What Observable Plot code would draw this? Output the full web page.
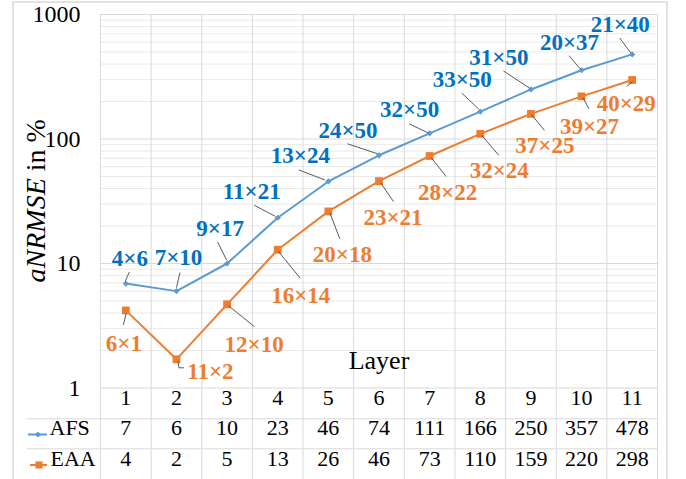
<!DOCTYPE html>
<html><head><meta charset="utf-8">
<script src="https://cdn.jsdelivr.net/npm/d3@7"></script>
<script src="https://cdn.jsdelivr.net/npm/@observablehq/plot@0.6"></script>
<style>
html,body{margin:0;padding:0;background:#fff}
svg{display:block}
#chart svg, #chart svg text, #chart svg tspan{font-family:"Liberation Serif","Times New Roman",serif !important;font-variant:normal !important}
</style>
</head><body><div id="chart"></div>
<script>
// ---- data ----
const layers = [1, 2, 3, 4, 5, 6, 7, 8, 9, 10, 11];
const afsValues = [6.9, 6.0, 10.0, 23.3, 45.6, 74.0, 111, 166, 250, 357, 478];
const eaaValues = [4.2, 1.7, 4.7, 12.9, 26.2, 45.9, 73, 110, 159, 220, 298];
const afsLabels = ["4×6", "7×10", "9×17", "11×21", "13×24", "24×50", "32×50", "33×50", "31×50", "20×37", "21×40"];
const eaaLabels = ["6×1", "11×2", "12×10", "16×14", "20×18", "23×21", "28×22", "32×24", "37×25", "39×27", "40×29"];
const seriesNames = ["AFS", "EAA"];
const yTicks = [1, 10, 100, 1000];
const yMinor = [2,3,4,5,6,7,8,9,20,30,40,50,60,70,80,90,200,300,400,500,600,700,800,900];
const xLabel = "Layer";

// ---- layout (pixel offsets of data labels and their leader lines) ----
const afsLabelOff = [[4,-25],[2,-33],[-7,-35],[-26,-26],[-28,-26],[-31,-25],[-20,-24],[-18,-32],[-32,-32],[-12,-28],[-12,-30]];
const afsLeader = [[[4,-11],[0,-2]],[[4,-18],[0.5,-3]],[[-9,-21],[0,-3]],[[-23,-12],[-2,-1]],[[-29,-11],[-3,-1]],[[-31,-11],[-1,-1]],[[-20,-9],[-1,0]],[[-18,-18],[-1,-2]],[[-27,-18],[-1,-1]],[[-12,-14],[-1,-1]],[[-12,-16],[-1,-1]]];
const eaaLabelOff = [[-2,33],[34,12],[27,40],[23,46],[14,43],[14,37],[18,37],[19,37],[14,32],[8,30],[-6,24]];
const eaaLeader = [[[-2,15],[1,3]],[[2,2],[3,9],[8,9]],[[2,2],[28,23]],[[1,2],[23,29]],[[2,2],[12,28]],[[2,2],[15,21]],[[2,2],[17,21]],[[2,2],[19,22]],[[1,1],[14,17]],[[2,2],[8,13]],[[1,2],[-5,7]]];

const BLUE = "#5b9bd5", ORANGE = "#ed7d31", BLUE_TXT = "#0070c0", ORANGE_TXT = "#ed7d31";
const GRID = "#d9d9d9", GRID_MINOR = "#e9e9e9";
const FONT = "Liberation Serif, Times New Roman, serif";

const afs = layers.map((l, i) => ({layer: l, value: afsValues[i], label: afsLabels[i]}));
const eaa = layers.map((l, i) => ({layer: l, value: eaaValues[i], label: eaaLabels[i]}));
const boundaries = d3.range(0.5, 12, 1);
const diamond = d3.symbolDiamond2 || d3.symbolDiamond;
const T = {fontFamily: FONT, fill: "#000"};

const labelMarks = (data, offs, color) => data.map((d, i) => Plot.text([d], {
  x: "layer", y: "value", text: "label", dx: offs[i][0], dy: offs[i][1],
  fill: color, fontWeight: "bold", fontSize: 23, fontFamily: FONT
}));

const plot = Plot.plot({
  width: 686, height: 479,
  marginLeft: 100, marginRight: 29, marginTop: 14, marginBottom: 91.5,
  style: {fontFamily: FONT, background: "#fff", color: "#000"},
  x: {type: "linear", domain: [0.5, 11.5], axis: null},
  y: {type: "log", domain: [1, 1000], axis: null},
  marks: [
    Plot.ruleY(yMinor, {stroke: GRID_MINOR, strokeWidth: 1}),
    Plot.ruleY(yTicks, {stroke: GRID, strokeWidth: 1}),
    Plot.ruleX(boundaries, {stroke: GRID, strokeWidth: 1, insetBottom: -92}),
    Plot.ruleY([1], {stroke: GRID, strokeWidth: 1, dy: 30.8, insetLeft: -73}),
    Plot.ruleY([1], {stroke: GRID, strokeWidth: 1, dy: 60.8, insetLeft: -73}),
    Plot.text(yTicks, {...T, x: 0.5, y: d => d, text: d => String(d), textAnchor: "end", dx: -20, fontSize: 24}),
    Plot.text([xLabel], {...T, frameAnchor: "bottom", dy: -19.5, text: d => d, fontSize: 26}),
    // data table
    Plot.text(layers, {...T, x: d => d, frameAnchor: "bottom", dy: 17, text: d => String(d), fontSize: 22}),
    Plot.text(afs, {...T, x: "layer", frameAnchor: "bottom", dy: 47, text: d => String(Math.round(d.value)), fontSize: 22}),
    Plot.text(eaa, {...T, x: "layer", frameAnchor: "bottom", dy: 77.5, text: d => String(Math.round(d.value)), fontSize: 22}),
    Plot.text([seriesNames[0]], {...T, x: 0.5, frameAnchor: "bottom", dx: -51, dy: 47, text: d => d, textAnchor: "start", fontSize: 22}),
    Plot.text([seriesNames[1]], {...T, x: 0.5, frameAnchor: "bottom", dx: -50, dy: 77.5, text: d => d, textAnchor: "start", fontSize: 22}),
    // series
    Plot.line(afs, {x: "layer", y: "value", stroke: BLUE, strokeWidth: 2}),
    Plot.line(eaa, {x: "layer", y: "value", stroke: ORANGE, strokeWidth: 2}),
    Plot.dot(afs, {x: "layer", y: "value", symbol: diamond, r: 2.8, fill: BLUE, stroke: "none"}),
    Plot.dot(eaa, {x: "layer", y: "value", symbol: "square", r: 4.4, fill: ORANGE, stroke: "none"}),
    ...labelMarks(afs, afsLabelOff, BLUE_TXT),
    ...labelMarks(eaa, eaaLabelOff, ORANGE_TXT)
  ]
});

// ---- annotations using the plot's own scales ----
const svg = d3.select(plot);
svg.attr("font-family", FONT);
const sx = plot.scale("x"), sy = plot.scale("y");
const leaders = svg.append("g").attr("fill", "none").attr("stroke", "#595959").attr("stroke-width", 1);
function drawLeaders(data, leaderOffs) {
  data.forEach((d, i) => {
    const px = sx.apply(d.layer), py = sy.apply(d.value);
    leaders.append("path").attr("d", d3.line()(leaderOffs[i].map(([a, b]) => [px + a, py + b])));
  });
}
drawLeaders(afs, afsLeader);
drawLeaders(eaa, eaaLeader);

// legend keys inside the table
const yRow1 = sy.apply(1) + 47, yRow2 = sy.apply(1) + 77.5;
svg.append("line").attr("x1", 28).attr("x2", 47).attr("y1", yRow1).attr("y2", yRow1).attr("stroke", BLUE).attr("stroke-width", 2);
svg.append("path").attr("transform", `translate(38,${yRow1})`).attr("d", d3.symbol(diamond, 24)()).attr("fill", BLUE);
svg.append("line").attr("x1", 30).attr("x2", 47).attr("y1", yRow2).attr("y2", yRow2).attr("stroke", ORANGE).attr("stroke-width", 2);
svg.append("path").attr("transform", `translate(39,${yRow2})`).attr("d", d3.symbol(d3.symbolSquare, 50)()).attr("fill", ORANGE);

// y-axis title
const yTitle = svg.append("text")
  .attr("transform", `translate(35,${(sy.apply(1) + sy.apply(1000)) / 2}) rotate(-90)`)
  .attr("text-anchor", "middle").attr("dy", "0.35em")
  .attr("font-size", 28).attr("font-family", FONT).attr("fill", "#000");
yTitle.append("tspan").attr("font-style", "italic").text("aNRMSE");
yTitle.append("tspan").text(" in %");

// outer chart frame
svg.append("rect").attr("x", 13).attr("y", 2).attr("width", 654).attr("height", 520)
  .attr("fill", "none").attr("stroke", GRID).attr("stroke-width", 1.5);

document.getElementById("chart").appendChild(plot);
</script>
</body></html>
